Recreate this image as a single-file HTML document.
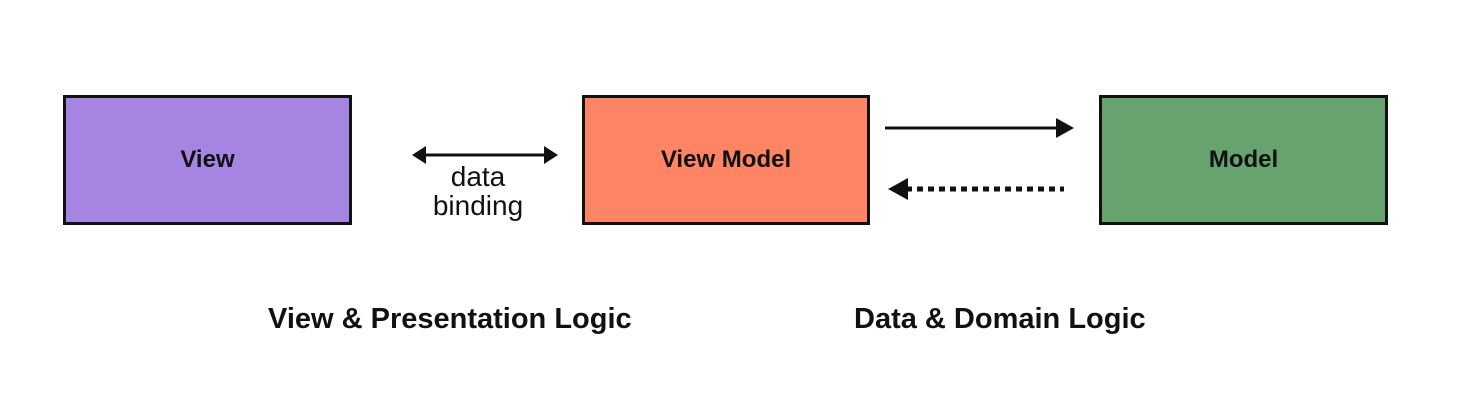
<!DOCTYPE html>
<html><head><style>
body{margin:0;width:1474px;height:400px;background:#fff;position:relative;overflow:hidden;font-family:"Liberation Sans",sans-serif;}
.b{position:absolute;top:95px;height:124px;border:3px solid #111;display:flex;align-items:center;justify-content:center;font-size:24px;font-weight:bold;color:#111;}
.t{position:absolute;font-size:29px;font-weight:bold;color:#111;white-space:nowrap;}
</style></head><body>
<div class="b" style="left:63px;width:283px;background:#a584e2;">View</div>
<div class="b" style="left:582px;width:282px;background:#fe8563;">View Model</div>
<div class="b" style="left:1099px;width:283px;background:#66a36f;">Model</div>
<svg width="1474" height="400" style="position:absolute;left:0;top:0">
<line x1="420" y1="155" x2="550" y2="155" stroke="#111" stroke-width="3"/>
<polygon points="412,155 426,146 426,164" fill="#111"/>
<polygon points="558,155 544,146 544,164" fill="#111"/>
<line x1="885" y1="128" x2="1060" y2="128" stroke="#111" stroke-width="3"/>
<polygon points="1074,128 1056,118 1056,138" fill="#111"/>
<line x1="906" y1="189" x2="1064" y2="189" stroke="#111" stroke-width="5" stroke-dasharray="6,5"/>
<polygon points="888,189 908,178 908,200" fill="#111"/>
</svg>
<div style="position:absolute;left:408px;top:162px;width:140px;text-align:center;font-size:28px;line-height:29px;color:#111;">data<br>binding</div>
<div class="t" style="left:268px;top:303px;">View &amp; Presentation Logic</div>
<div class="t" style="left:854px;top:303px;">Data &amp; Domain Logic</div>
</body></html>
